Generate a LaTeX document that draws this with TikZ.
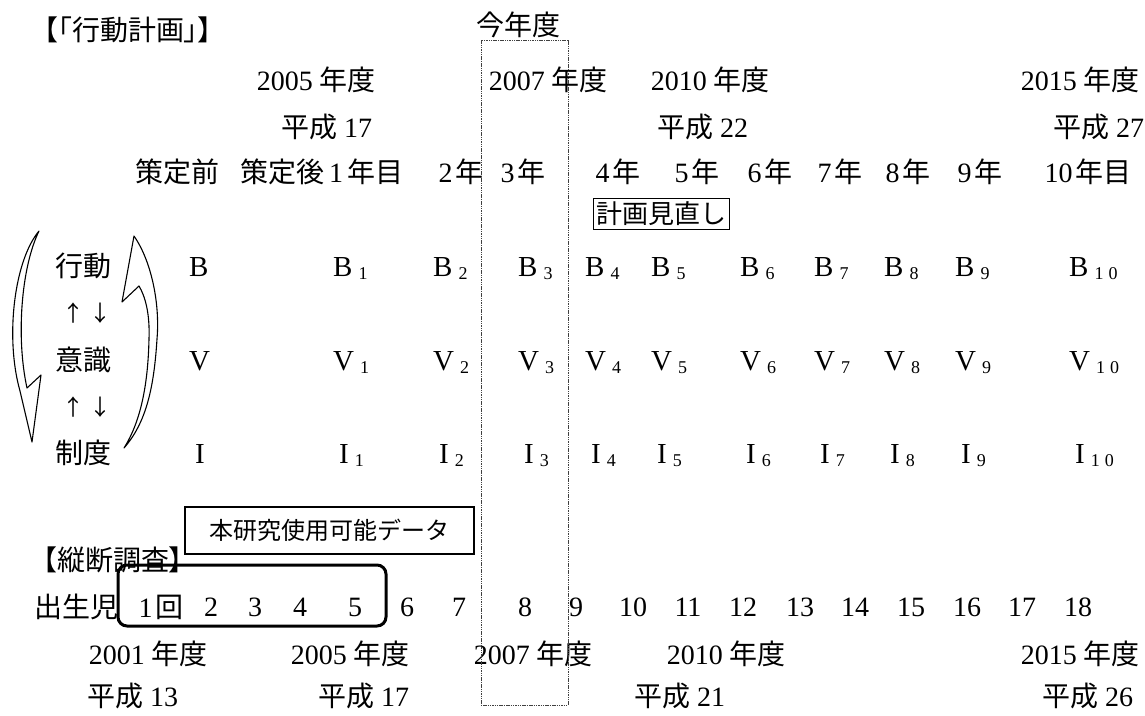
\documentclass[tikz,border=0pt]{standalone}
\usepackage{fontspec}
\setmainfont{Liberation Serif}
\newfontfamily\jp{Noto Sans CJK JP}
\newfontfamily\jpp[RawFeature=+palt]{Noto Sans CJK JP}
\newcommand\lat[1]{{\rmfamily #1}}
\newcommand\yr[1]{\lat{#1}\kern3pt 年}
\newcommand\sub[2]{#1\kern6pt\raisebox{-3pt}{\fontsize{18}{18}\selectfont #2}}
\begin{document}
\begin{tikzpicture}[x=1pt,y=-1pt,
  jtxt/.style={font=\jp\fontsize{28}{30}\selectfont,inner sep=0pt},
  btxt/.style={font=\jpp\fontsize{28}{30}\selectfont,inner sep=0pt},
  var/.style={font=\fontsize{29}{31}\selectfont,inner sep=0pt,anchor=base west},
  num/.style={font=\fontsize{28}{30}\selectfont,inner sep=0pt},
  updown/.style={font=\jp\fontsize{22}{24}\selectfont,inner sep=0pt},
  cyclearrow/.style={draw,line width=1.1pt,fill=white,line join=round},
  thisyear/.style={draw=black!75,line width=0.9pt,dash pattern=on 1.5pt off 0.8pt}]

\useasboundingbox[fill=white] (0,0) rectangle (1145,715);

% plan part
\node[btxt] (plan) at (128,30) {【「行動計画」】};
\node[jtxt] (now) at (518,25) {今年度};
\node[jtxt] (t05) at (316,80) {\lat{2005} 年度};
\node[jtxt] (t07) at (548,80) {\lat{2007} 年度};
\node[jtxt] (t10) at (710,80) {\lat{2010} 年度};
\node[jtxt] (t15) at (1080,80) {\lat{2015} 年度};
\node[jtxt] (h17) at (327,127) {平成 \lat{17}};
\node[jtxt] (h22) at (703,127) {平成 \lat{22}};
\node[jtxt] (h27) at (1099,127) {平成 \lat{27}};

\node[jtxt] (y0) at (177,172) {策定前};
\node[jtxt] (y1) at (322,172) {策定後\,\lat{1}\,年目};
\node[jtxt] (y2) at (461,172) {\yr{2}};
\node[jtxt] (y3) at (523,172) {\yr{3}};
\node[jtxt] (y4) at (618,172) {\yr{4}};
\node[jtxt] (y5) at (697,172) {\yr{5}};
\node[jtxt] (y6) at (770,172) {\yr{6}};
\node[jtxt] (y7) at (840,172) {\yr{7}};
\node[jtxt] (y8) at (908,172) {\yr{8}};
\node[jtxt] (y9) at (980,172) {\yr{9}};
\node[jtxt] (y10) at (1088,172) {\lat{10}\kern3pt 年目};

\node[jtxt,draw,line width=1pt,inner sep=3pt,font=\jp\fontsize{26}{28}\selectfont] (review) at (661,214) {計画見直し};

\node[jtxt] (act) at (83,266) {行動};
\node[updown] (ud1) at (87,313) {↑\kern5pt↓};
\node[jtxt] (val) at (83,360) {意識};
\node[updown] (ud2) at (87,407) {↑\kern5pt↓};
\node[jtxt] (ins) at (83,453) {制度};

\node[var] (b0) at (189,276) {B};
\node[var] (b1) at (333,276) {\sub{B}{1}};
\node[var] (b2) at (433,276) {\sub{B}{2}};
\node[var] (b3) at (518,276) {\sub{B}{3}};
\node[var] (b4) at (585,276) {\sub{B}{4}};
\node[var] (b5) at (651,276) {\sub{B}{5}};
\node[var] (b6) at (740,276) {\sub{B}{6}};
\node[var] (b7) at (814,276) {\sub{B}{7}};
\node[var] (b8) at (884,276) {\sub{B}{8}};
\node[var] (b9) at (955,276) {\sub{B}{9}};
\node[var] (b10) at (1069,276) {\sub{B}{1\kern5pt 0}};

\node[var] (v0) at (189,370) {V};
\node[var] (v1) at (333,370) {\sub{V}{1}};
\node[var] (v2) at (433,370) {\sub{V}{2}};
\node[var] (v3) at (518,370) {\sub{V}{3}};
\node[var] (v4) at (585,370) {\sub{V}{4}};
\node[var] (v5) at (651,370) {\sub{V}{5}};
\node[var] (v6) at (740,370) {\sub{V}{6}};
\node[var] (v7) at (814,370) {\sub{V}{7}};
\node[var] (v8) at (884,370) {\sub{V}{8}};
\node[var] (v9) at (955,370) {\sub{V}{9}};
\node[var] (v10) at (1069,370) {\sub{V}{1\kern5pt 0}};

\node[var] (i0) at (195,463) {I};
\node[var] (i1) at (339,463) {\sub{I}{1}};
\node[var] (i2) at (439,463) {\sub{I}{2}};
\node[var] (i3) at (524,463) {\sub{I}{3}};
\node[var] (i4) at (591,463) {\sub{I}{4}};
\node[var] (i5) at (657,463) {\sub{I}{5}};
\node[var] (i6) at (746,463) {\sub{I}{6}};
\node[var] (i7) at (820,463) {\sub{I}{7}};
\node[var] (i8) at (890,463) {\sub{I}{8}};
\node[var] (i9) at (961,463) {\sub{I}{9}};
\node[var] (i10) at (1075,463) {\sub{I}{1\kern5pt 0}};

% cycle arrows
\draw[cyclearrow] (39,231) .. controls (14,261) and (5,338) .. (20,391) -- (32,442) -- (41,375) -- (27,388) .. controls (16,338) and (21,268) .. (39,231) -- cycle;
\draw[cyclearrow] (134,236) .. controls (152,262) and (160,305) .. (157,339) .. controls (154,388) and (146,423) .. (124,448) .. controls (141,421) and (148,384) .. (149,339) .. controls (150,313) and (145,296) .. (139,286) -- (122,302) -- cycle;

% survey part
\node[jtxt,draw,line width=1.1pt,minimum width=289pt,minimum height=47pt,font=\jp\fontsize{24}{26}\selectfont] (data) at (329.5,530.5) {本研究使用可能データ};
\node[btxt] (survey) at (113,560) {【縦断調査】};

\node[jtxt] (birth) at (76,607) {出生児};
\node[num] (n1) at (161,607) {1\kern3pt{\jp 回}};
\node[num] (n2) at (211,607) {2};
\node[num] (n3) at (255,607) {3};
\node[num] (n4) at (300,607) {4};
\node[num] (n5) at (355,607) {5};
\node[num] (n6) at (407,607) {6};
\node[num] (n7) at (459,607) {7};
\node[num] (n8) at (525,607) {8};
\node[num] (n9) at (576,607) {9};
\node[num] (n10) at (633,607) {10};
\node[num] (n11) at (688,607) {11};
\node[num] (n12) at (743,607) {12};
\node[num] (n13) at (800,607) {13};
\node[num] (n14) at (855,607) {14};
\node[num] (n15) at (911,607) {15};
\node[num] (n16) at (967,607) {16};
\node[num] (n17) at (1022,607) {17};
\node[num] (n18) at (1078,607) {18};

\node[jtxt] (s01) at (148,654) {\lat{2001} 年度};
\node[jtxt] (s05) at (350,654) {\lat{2005} 年度};
\node[jtxt] (s07) at (533,654) {\lat{2007} 年度};
\node[jtxt] (s10) at (726,654) {\lat{2010} 年度};
\node[jtxt] (s15) at (1080,654) {\lat{2015} 年度};
\node[jtxt] (g13) at (133,696) {平成 \lat{13}};
\node[jtxt] (g17) at (364,696) {平成 \lat{17}};
\node[jtxt] (g21) at (680,696) {平成 \lat{21}};
\node[jtxt] (g26) at (1088,696) {平成 \lat{26}};

\draw[line width=3pt,rounded corners=9pt] (118,565) rectangle (386,626);
\draw[thisyear] (481,40) rectangle (568,705);
\end{tikzpicture}
\end{document}
